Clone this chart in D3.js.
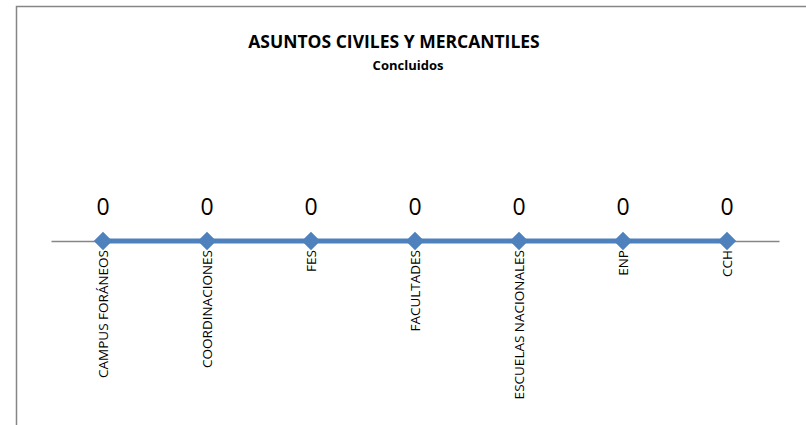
<!DOCTYPE html>
<html>
<head>
<meta charset="utf-8">
<script src="https://cdn.jsdelivr.net/npm/d3@7"></script>
<style>
  body { margin: 0; background: #fff; }
  svg { display: block; }
</style>
</head>
<body>
<div id="chart"></div>
<script>
// chart data
var categories = ["CAMPUS FORÁNEOS", "COORDINACIONES", "FES", "FACULTADES", "ESCUELAS NACIONALES", "ENP", "CCH"];
var values = [0, 0, 0, 0, 0, 0, 0];
var title = "ASUNTOS CIVILES Y MERCANTILES";
var subtitle = "Concluidos";

var width = 806, height = 425;
var font = "'Open Sans', 'Liberation Sans', sans-serif";

var svg = d3.select("#chart")
    .append("svg")
    .attr("width", width)
    .attr("height", height);

// chart frame (only top and left edges visible)
svg.append("rect")
    .attr("x", 16.5)
    .attr("y", 6.5)
    .attr("width", 820)
    .attr("height", 440)
    .attr("fill", "#fff")
    .attr("stroke", "#868686")
    .attr("stroke-width", 1.5);

var x = d3.scaleBand()
    .domain(categories)
    .range([51, 779]);

var y = d3.scaleLinear()
    .domain([-1, 1])
    .range([391, 91]);

// axis line + labels
var xAxis = d3.axisBottom(x).tickSize(0).tickPadding(0);
var gx = svg.append("g")
    .attr("transform", "translate(0," + y(0) + ")")
    .call(xAxis);
gx.select(".domain")
    .attr("stroke", "#868686")
    .attr("stroke-width", 1.3);
gx.selectAll("text")
    .attr("transform", "rotate(-90)")
    .attr("x", -9)
    .attr("y", 0)
    .attr("dy", "0.35em")
    .style("text-anchor", "end")
    .attr("font-family", font)
    .attr("font-size", 13.5)
    .attr("fill", "#000");

var cx = function(i) { return x(categories[i]) + x.bandwidth() / 2; };

// series line
var line = d3.line()
    .x(function(d, i) { return cx(i); })
    .y(function(d) { return y(d); });

svg.append("path")
    .datum(values)
    .attr("d", line)
    .attr("fill", "none")
    .attr("stroke", "#4f81bd")
    .attr("stroke-width", 5);

// diamond markers
svg.selectAll(".marker")
    .data(values)
    .enter()
    .append("path")
    .attr("class", "marker")
    .attr("d", d3.symbol().type(d3.symbolSquare).size(170))
    .attr("transform", function(d, i) {
        return "translate(" + cx(i) + "," + y(d) + ") rotate(45)";
    })
    .attr("fill", "#4f81bd");

// data labels
svg.selectAll(".label")
    .data(values)
    .enter()
    .append("text")
    .attr("class", "label")
    .attr("x", function(d, i) { return cx(i); })
    .attr("y", function(d) { return y(d) - 26; })
    .attr("text-anchor", "middle")
    .attr("font-family", font)
    .attr("font-size", 23)
    .attr("fill", "#000")
    .text(function(d) { return d; });

// titles
svg.append("text")
    .attr("x", 394)
    .attr("y", 48)
    .attr("text-anchor", "middle")
    .attr("font-family", font)
    .attr("font-weight", "bold")
    .attr("font-size", 17.5)
    .text(title);

svg.append("text")
    .attr("x", 408)
    .attr("y", 70)
    .attr("text-anchor", "middle")
    .attr("font-family", font)
    .attr("font-weight", "bold")
    .attr("font-size", 13)
    .text(subtitle);
</script>
</body>
</html>
